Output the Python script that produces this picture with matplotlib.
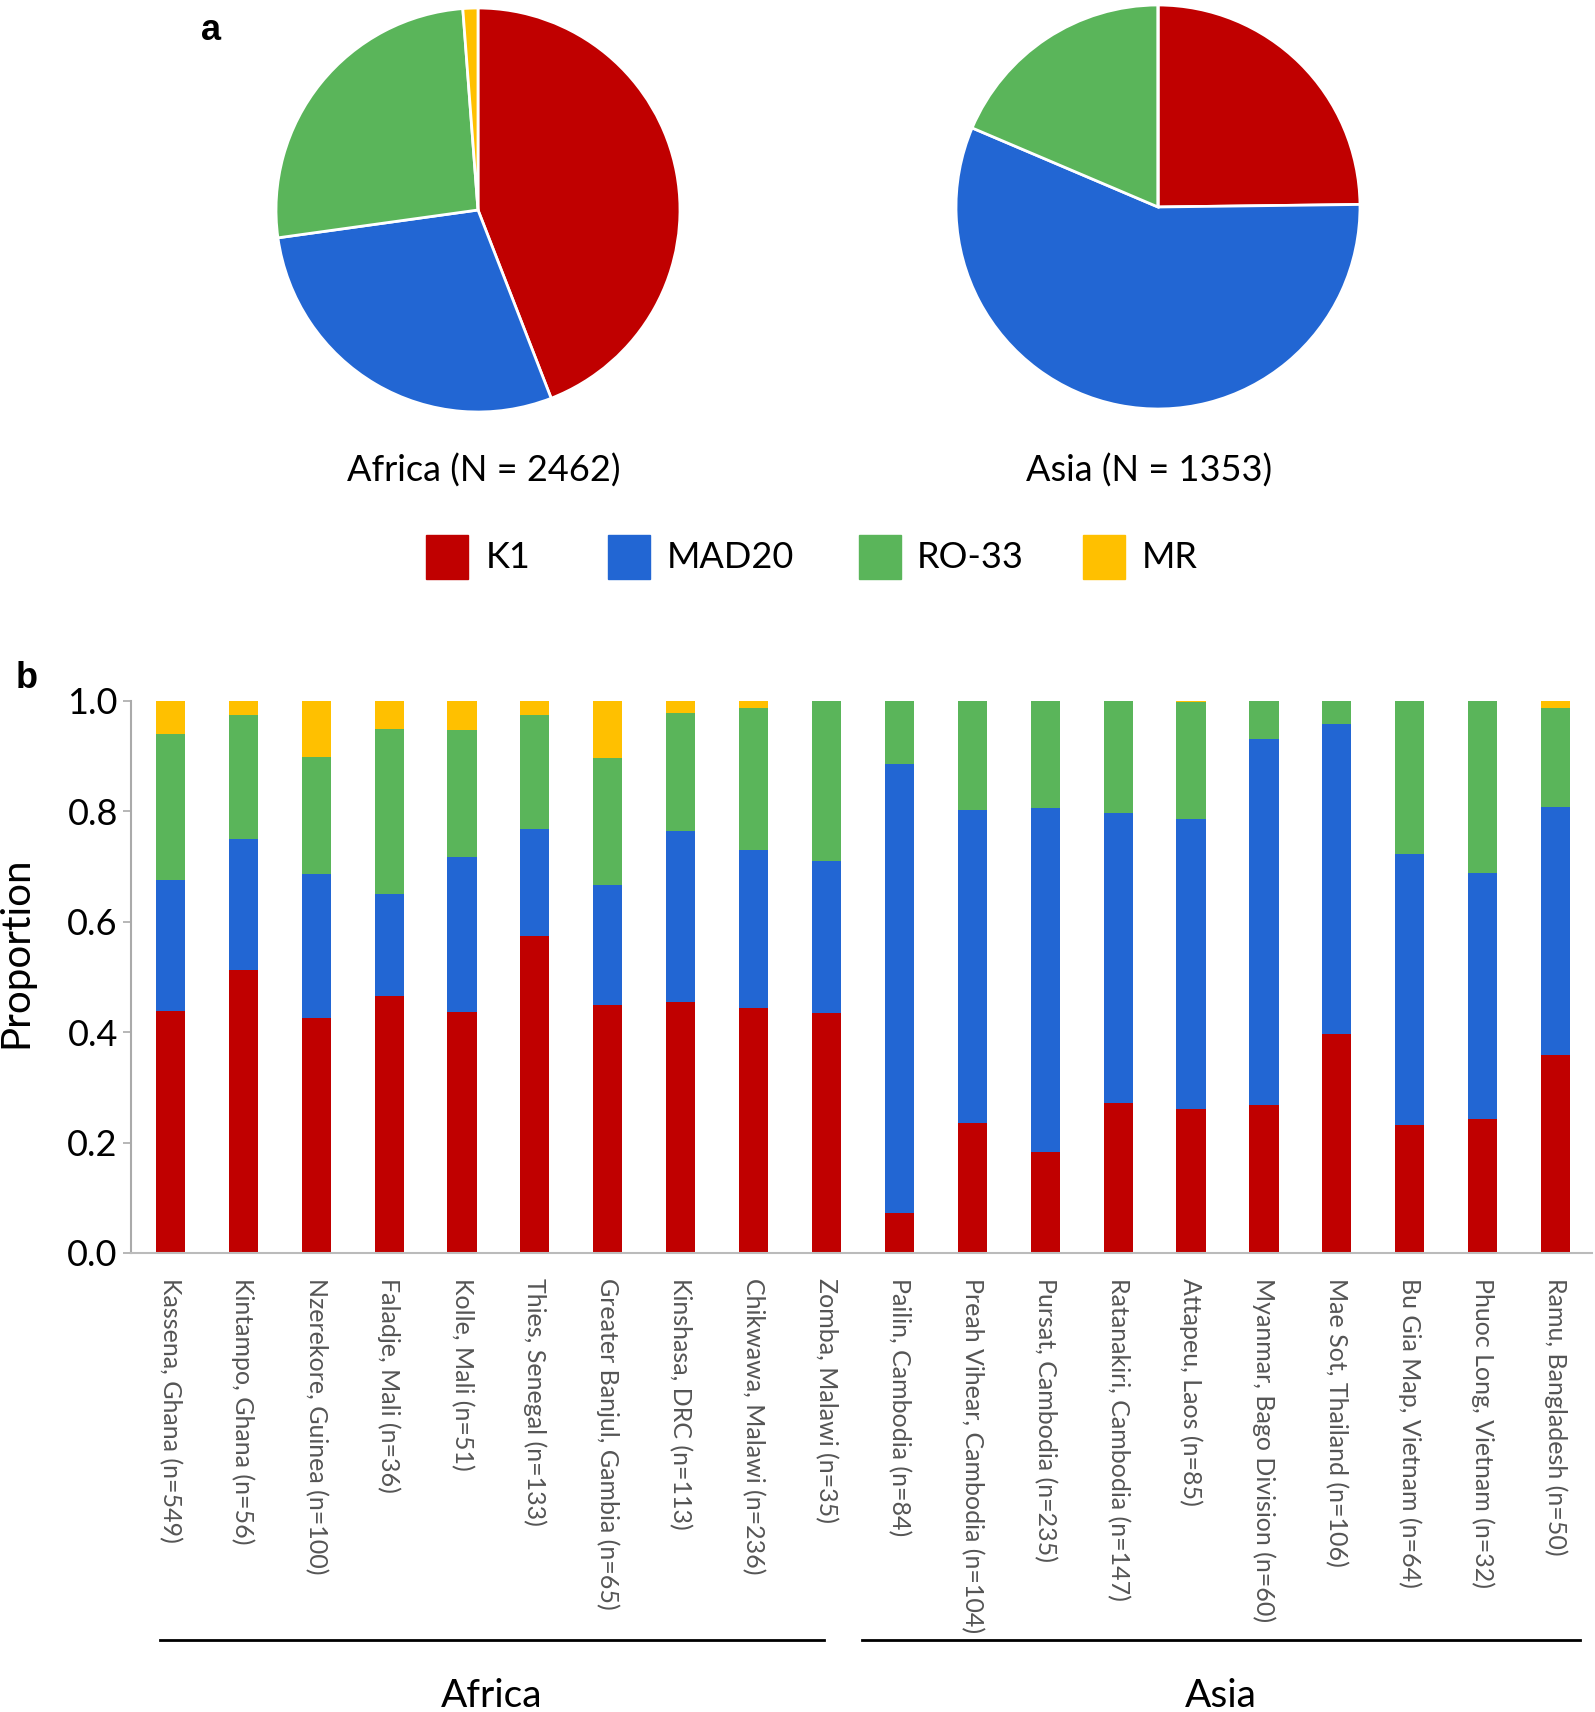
import numpy as np
import matplotlib.pyplot as plt

# tipos alelicos e cores
alelos = ["K1", "MAD20", "RO-33", "MR"]
cores = ["#C00000", "#2266D3", "#5AB55A", "#FFC000"]

# pizza (proporcoes por continente)
africa_pie = [0.441, 0.287, 0.260, 0.012]
asia_pie = [0.248, 0.566, 0.186, 0.0]
africa_titulo = "Africa (N = 2462)"
asia_titulo = "Asia (N = 1353)"

# barras (proporcoes por local)
locais = ["Kassena, Ghana (n=549)", "Kintampo, Ghana (n=56)", "Nzerekore, Guinea (n=100)",
          "Faladje, Mali (n=36)", "Kolle, Mali (n=51)", "Thies, Senegal (n=133)",
          "Greater Banjul, Gambia (n=65)", "Kinshasa, DRC (n=113)", "Chikwawa, Malawi (n=236)",
          "Zomba, Malawi (n=35)", "Pailin, Cambodia (n=84)", "Preah Vihear, Cambodia (n=104)",
          "Pursat, Cambodia (n=235)", "Ratanakiri, Cambodia (n=147)", "Attapeu, Laos (n=85)",
          "Myanmar, Bago Division (n=60)", "Mae Sot, Thailand (n=106)", "Bu Gia Map, Vietnam (n=64)",
          "Phuoc Long, Vietnam (n=32)", "Ramu, Bangladesh (n=50)"]
k1 = [0.439, 0.512, 0.425, 0.466, 0.437, 0.575, 0.449, 0.455, 0.443, 0.435,
      0.072, 0.235, 0.183, 0.271, 0.261, 0.269, 0.396, 0.232, 0.243, 0.358]
mad20 = [0.237, 0.238, 0.261, 0.184, 0.281, 0.194, 0.217, 0.310, 0.287, 0.275,
         0.814, 0.568, 0.623, 0.527, 0.525, 0.663, 0.562, 0.490, 0.446, 0.450]
ro33 = [0.264, 0.225, 0.212, 0.299, 0.229, 0.206, 0.230, 0.214, 0.257, 0.290,
        0.114, 0.197, 0.194, 0.202, 0.212, 0.068, 0.042, 0.278, 0.311, 0.179]
mr = [0.060, 0.025, 0.102, 0.051, 0.053, 0.025, 0.104, 0.021, 0.013, 0.0,
      0.0, 0.0, 0.0, 0.0, 0.002, 0.0, 0.0, 0.0, 0.0, 0.013]
regioes = ["Africa", "Asia"]

plt.rcParams['font.family'] = ['Lato', 'DejaVu Sans']

W, H = 1595, 1712
fig = plt.figure(figsize=(W / 100, H / 100), dpi=100)


def caixa(x0, y0, x1, y1):
    # converte pixels (origem no topo) para fracao da figura
    return [x0 / W, 1 - y1 / H, (x1 - x0) / W, (y1 - y0) / H]


# --- painel a: pizzas ---
r = 202
for (cx, cy), vals, titulo, tx in [((478, 210), africa_pie, africa_titulo, 484),
                                   ((1158, 207), asia_pie, asia_titulo, 1149)]:
    ax = fig.add_axes(caixa(cx - r, cy - r, cx + r, cy + r))
    ax.pie(vals, colors=cores, startangle=90, counterclock=False,
           wedgeprops=dict(edgecolor="white", linewidth=2))
    ax.set_xlim(-1, 1)
    ax.set_ylim(-1, 1)
    fig.text(tx / W, 1 - 471 / H, titulo, ha="center", va="center", fontsize=26)

# legenda manual
legenda_x = [(426, 486), (608, 667), (859, 917), (1083, 1142)]
for (qx, tx), nome, cor in zip(legenda_x, alelos, cores):
    fig.patches.append(plt.Rectangle((qx / W, 1 - 579 / H), 42 / W, 44 / H,
                                     transform=fig.transFigure, color=cor))
    fig.text(tx / W, 1 - 558 / H, nome, ha="left", va="center", fontsize=26)

fig.text(211 / W, 1 - 31 / H, "a", ha="center", va="center", fontsize=26,
         fontweight="bold", family="Liberation Sans")
fig.text(27 / W, 1 - 679 / H, "b", ha="center", va="center", fontsize=26,
         fontweight="bold", family="Liberation Sans")

# --- painel b: barras empilhadas ---
ax = fig.add_axes(caixa(131, 701, 1592, 1253))
x = np.arange(len(locais))
base = np.zeros(len(locais))
for serie, cor in zip([k1, mad20, ro33, mr], cores):
    ax.bar(x, serie, width=0.4, bottom=base, color=cor)
    base += np.array(serie)

ax.set_xlim(-0.54, len(locais) - 0.5)
ax.set_ylim(0, 1.0)
ax.set_yticks(np.arange(0, 1.01, 0.2))
ax.set_yticklabels([f"{v:.1f}" for v in np.arange(0, 1.01, 0.2)], fontsize=26)
ax.set_ylabel("Proportion", fontsize=29)
ax.yaxis.set_label_coords(-0.066, 0.545)
ax.set_xticks(x)
ax.set_xticklabels(locais, rotation=270, fontsize=18, color="#555555", va="top", ha="center")
ax.tick_params(axis="x", length=0, pad=18)
ax.tick_params(axis="y", length=6, color="#aaaaaa", width=1.2)
for lado in ["top", "right"]:
    ax.spines[lado].set_visible(False)
ax.spines["left"].set_color("#aaaaaa")
ax.spines["bottom"].set_color("#bbbbbb")
ax.spines["left"].set_linewidth(1.5)
ax.spines["bottom"].set_linewidth(1.5)

# linhas e nomes das regioes
for (x0, x1), nome in zip([(160, 824), (862, 1580)], regioes):
    fig.add_artist(plt.Line2D([x0 / W, x1 / W], [1 - 1640 / H] * 2, color="black",
                              linewidth=2, transform=fig.transFigure))
    fig.text((x0 + x1) / 2 / W, 1 - 1678 / H, nome, ha="center", va="top", fontsize=28)

fig.savefig("out.png", dpi=100)
